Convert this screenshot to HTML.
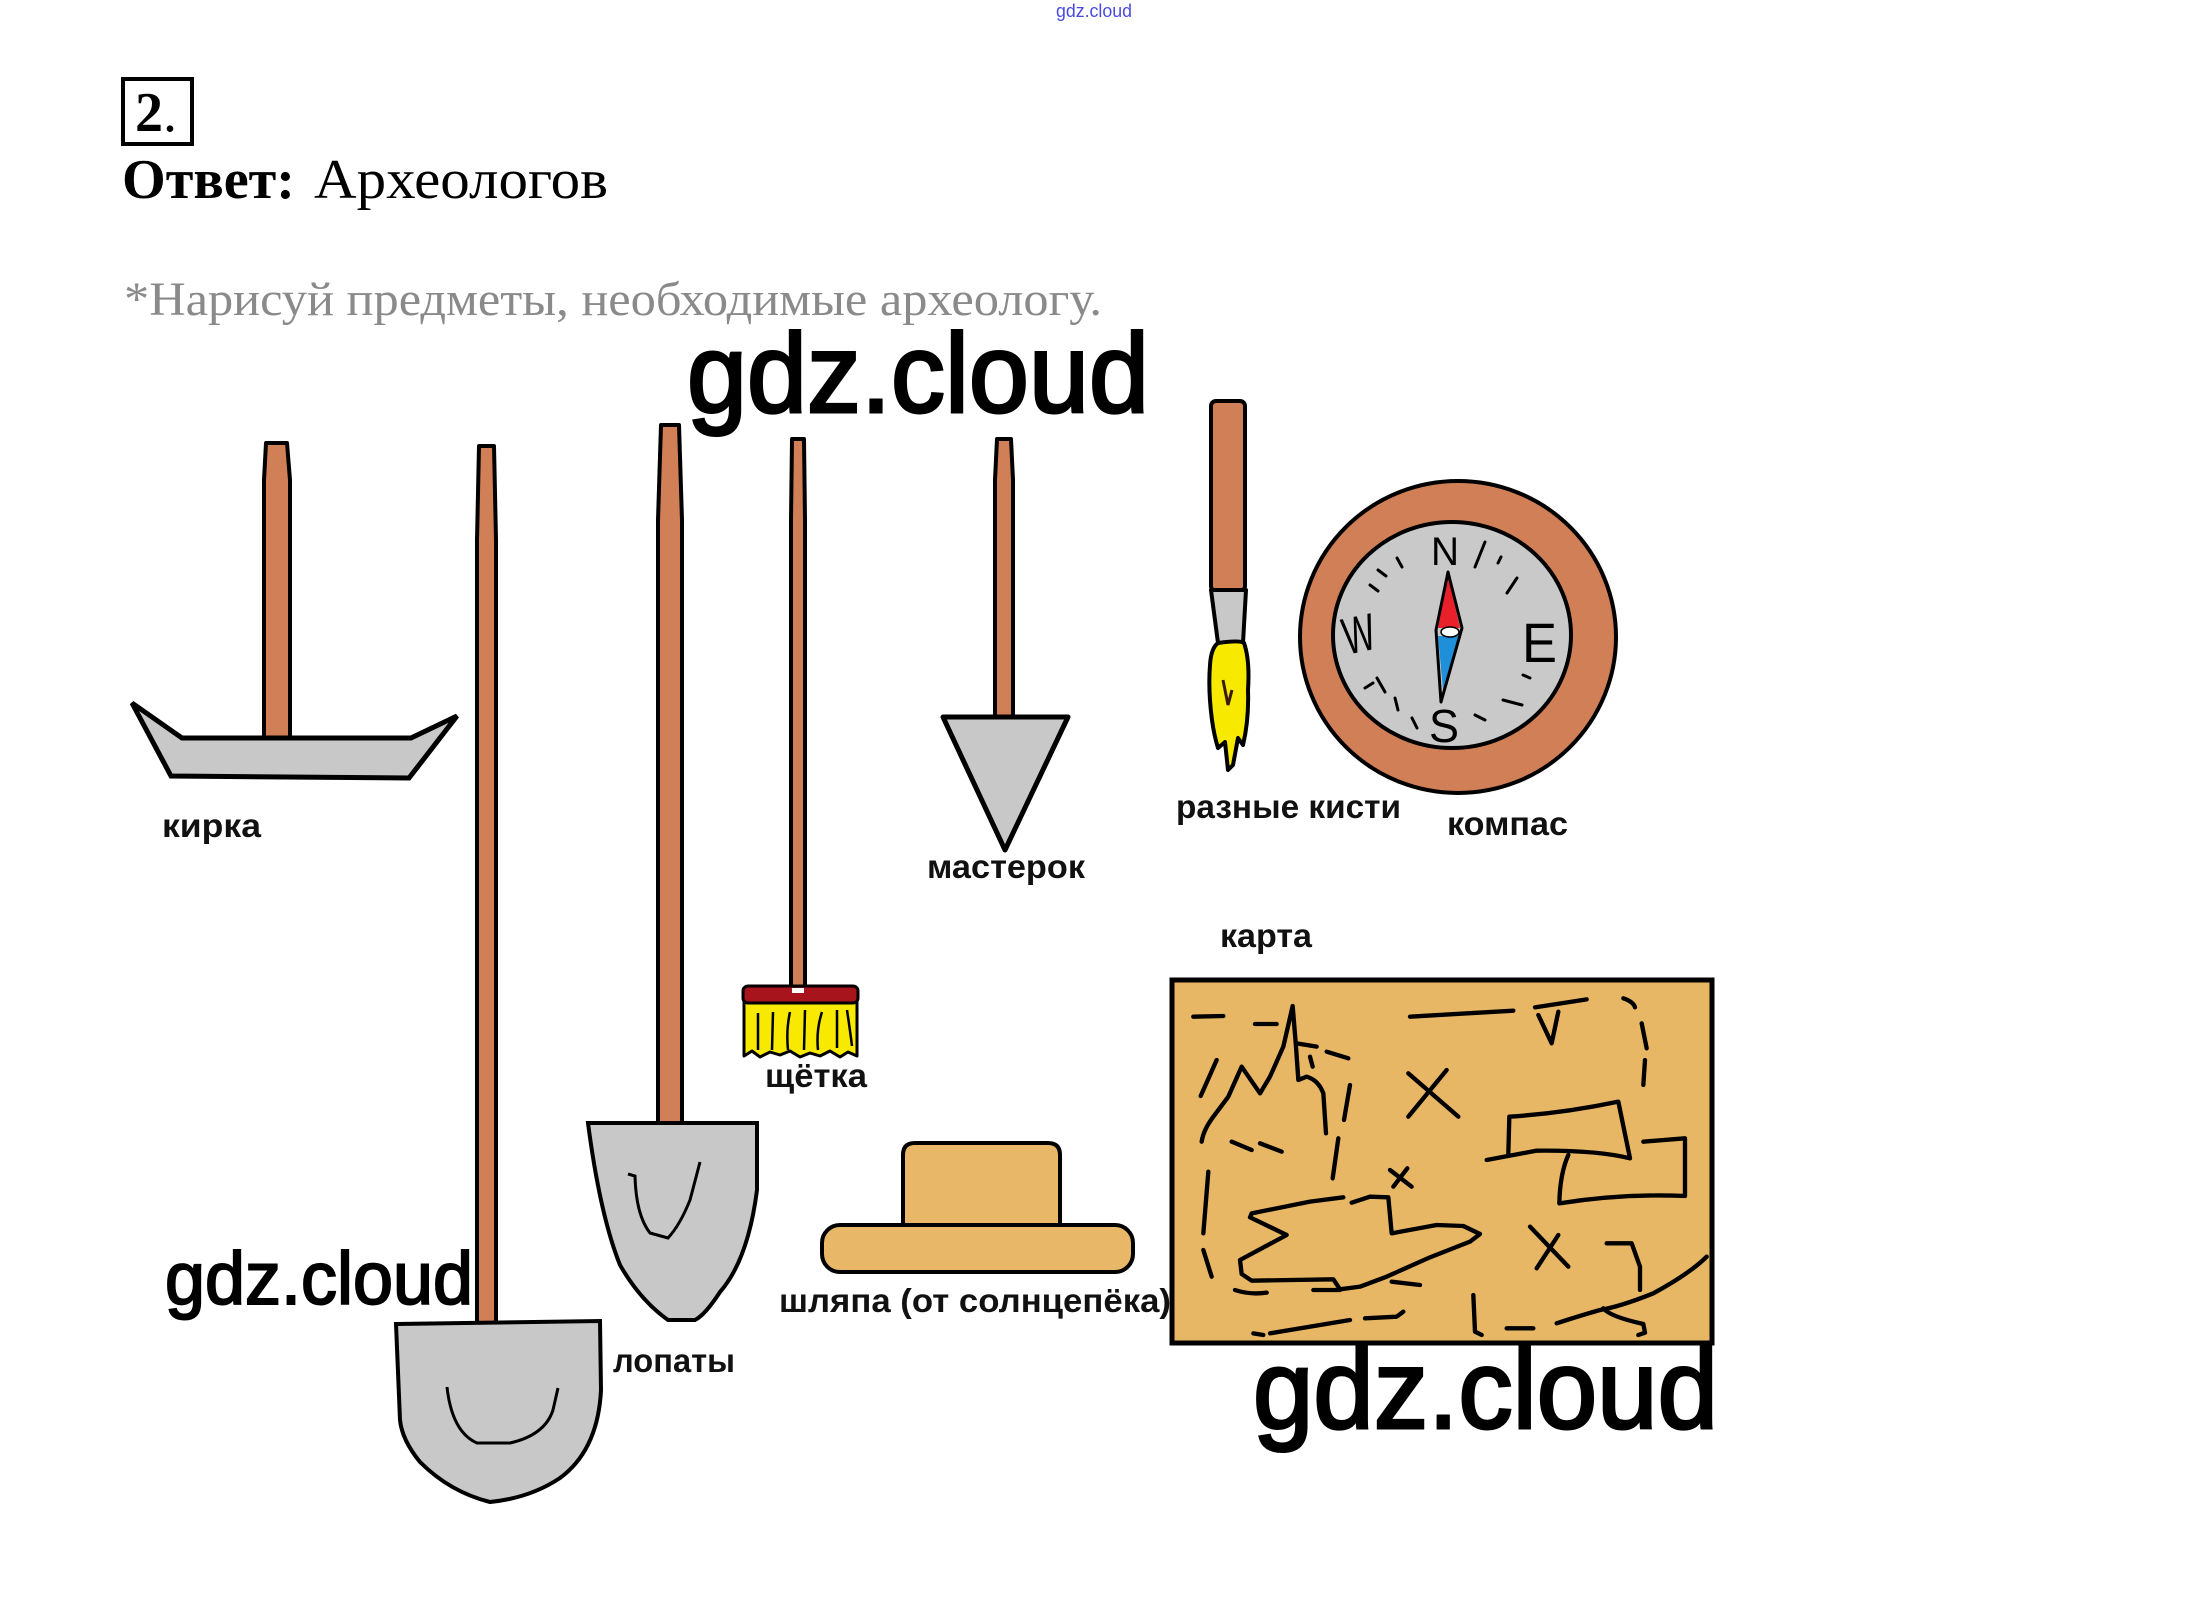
<!DOCTYPE html>
<html><head><meta charset="utf-8"><style>
html,body{margin:0;padding:0;background:#fff;}
body{width:2190px;height:1598px;overflow:hidden;position:relative;}
svg{position:absolute;left:0;top:0;}
.lab{font-family:"Liberation Sans","DejaVu Sans",sans-serif;font-weight:bold;font-size:33px;fill:#111;}
.wm{font-family:"Liberation Sans","DejaVu Sans",sans-serif;fill:#000;}
</style></head><body>
<svg width="2190" height="1598" viewBox="0 0 2190 1598" xmlns="http://www.w3.org/2000/svg">
<!-- header -->
<text class="wm" x="1056" y="17" font-size="18" fill="#4a4ae0" style="fill:#4a4ae0" textLength="76" lengthAdjust="spacingAndGlyphs">gdz.cloud</text>
<rect x="123" y="79" width="69" height="65" fill="none" stroke="#000" stroke-width="4"/>
<text x="135" y="131" font-family="Liberation Serif, serif" font-weight="bold" font-size="56" fill="#000">2<tspan font-weight="normal">.</tspan></text>
<text x="122" y="198" font-family="Liberation Serif, serif" font-weight="bold" font-size="56" fill="#000" textLength="173" lengthAdjust="spacingAndGlyphs">Ответ:</text>
<text x="314" y="198" font-family="Liberation Serif, serif" font-size="56" fill="#000" textLength="294" lengthAdjust="spacingAndGlyphs">Археологов</text>
<text x="124" y="315" font-family="Liberation Serif, serif" font-size="48" fill="#8a8a8a" textLength="978" lengthAdjust="spacingAndGlyphs">*Нарисуй предметы, необходимые археологу.</text>

<!-- handles -->
<g fill="#d07f56" stroke="#000" stroke-width="4" stroke-linejoin="round">
<polygon points="266,443 287,443 290,480 290,740 264,740 264,480"/>
<polygon points="479,446 494,446 496,540 496,1326 477,1326 477,540"/>
<polygon points="661,425 679,425 682,520 682,1124 658,1124 658,520"/>
<polygon points="792,439 804,439 805,520 805,988 791,988 791,520"/>
<polygon points="997,439 1011,439 1013,480 1013,718 995,718 995,480"/>
<rect x="1211" y="401" width="34" height="190" rx="5"/>
</g>

<!-- pick head -->
<polygon points="132,703 182,738 411,738 457,716 409,778 171,776" fill="#c8c8c8" stroke="#000" stroke-width="5" stroke-linejoin="miter"/>
<text class="lab" x="162" y="837" textLength="99" lengthAdjust="spacingAndGlyphs">кирка</text>

<!-- left shovel -->
<path d="M396,1324 L600,1321 L601,1390 Q598,1450 560,1478 Q530,1498 490,1502 Q450,1492 420,1462 Q402,1440 400,1420 Z" fill="#c8c8c8" stroke="#000" stroke-width="4"/>
<path d="M447,1387 Q452,1432 477,1443 L510,1443 Q545,1435 553,1410 L558,1388" fill="none" stroke="#000" stroke-width="3"/>

<!-- right shovel -->
<path d="M588,1123 L757,1123 L757,1190 Q748,1260 720,1292 Q705,1315 695,1320 L668,1320 Q640,1300 620,1265 Q600,1215 588,1123 Z" fill="#c8c8c8" stroke="#000" stroke-width="4"/>
<path d="M628,1174 L635,1176 Q636,1215 650,1233 L668,1238 Q680,1225 690,1200 L700,1162" fill="none" stroke="#000" stroke-width="3"/>
<text class="lab" x="613" y="1372" textLength="122" lengthAdjust="spacingAndGlyphs">лопаты</text>

<!-- brush (щётка) -->
<path d="M744,1002 L857,1002 L857,1056 L848,1052 L840,1057 L830,1051 L820,1056 L810,1053 L800,1057 L790,1051 L780,1055 L770,1052 L760,1057 L752,1051 L744,1056 Z" fill="#f7ea00" stroke="#000" stroke-width="3" stroke-linejoin="round"/>
<g stroke="#000" stroke-width="2.5" fill="none">
<path d="M758,1013 L758,1050"/><path d="M773,1012 L772,1050"/><path d="M790,1012 Q786,1030 788,1050"/><path d="M805,1010 L804,1050"/><path d="M822,1012 Q816,1030 818,1050"/><path d="M837,1010 L837,1048"/><path d="M847,1010 Q850,1030 852,1046"/>
</g>
<rect x="743" y="986" width="115" height="17" rx="5" fill="#a8141c" stroke="#000" stroke-width="3"/>
<rect x="792" y="988" width="12" height="5" fill="#fff"/>
<text class="lab" x="765" y="1087" textLength="102" lengthAdjust="spacingAndGlyphs">щётка</text>

<!-- trowel -->
<polygon points="943,717 1068,717 1005,850" fill="#c8c8c8" stroke="#000" stroke-width="5" stroke-linejoin="round"/>
<text class="lab" x="927" y="878" textLength="158" lengthAdjust="spacingAndGlyphs">мастерок</text>

<!-- paint brush -->
<polygon points="1211,590 1246,590 1243,643 1218,643" fill="#c8c8c8" stroke="#000" stroke-width="4" stroke-linejoin="round"/>
<path d="M1218,643 Q1240,640 1244,643 Q1250,660 1248,690 Q1249,720 1243,745 L1238,738 L1233,765 L1228,770 L1225,742 L1218,748 Q1214,735 1212,720 Q1208,690 1210,665 Q1211,648 1218,643 Z" fill="#f7ea00" stroke="#000" stroke-width="4" stroke-linejoin="round"/>
<path d="M1223,680 L1228,705 L1232,690" fill="none" stroke="#3a1a0a" stroke-width="3"/>
<text class="lab" x="1176" y="818" textLength="225" lengthAdjust="spacingAndGlyphs">разные кисти</text>

<!-- compass -->
<ellipse cx="1458" cy="637" rx="158" ry="156" fill="#d07f56" stroke="#000" stroke-width="4"/>
<ellipse cx="1452" cy="635" rx="119" ry="113" fill="#c9c9c9" stroke="#000" stroke-width="4"/>
<g font-family="Liberation Sans, sans-serif" fill="#000">
<text x="1431" y="565" font-size="40" textLength="28" lengthAdjust="spacingAndGlyphs">N</text>
<text x="1342" y="652" font-size="52" textLength="32" lengthAdjust="spacingAndGlyphs" transform="rotate(-12 1358 630)">W</text>
<text x="1522" y="662" font-size="56" textLength="35" lengthAdjust="spacingAndGlyphs">E</text>
<text x="1429" y="742" font-size="46" textLength="30" lengthAdjust="spacingAndGlyphs">S</text>
</g>
<g stroke="#000" stroke-width="3" stroke-linecap="round">
<line x1="1485" y1="542" x2="1475" y2="567"/>
<line x1="1501" y1="557" x2="1498" y2="563"/>
<line x1="1517" y1="578" x2="1507" y2="593"/>
<line x1="1397" y1="558" x2="1402" y2="567"/>
<line x1="1378" y1="570" x2="1386" y2="576"/>
<line x1="1370" y1="585" x2="1378" y2="591"/>
<line x1="1365" y1="688" x2="1373" y2="683"/>
<line x1="1377" y1="678" x2="1385" y2="692"/>
<line x1="1395" y1="698" x2="1398" y2="710"/>
<line x1="1412" y1="718" x2="1417" y2="728"/>
<line x1="1523" y1="675" x2="1530" y2="678"/>
<line x1="1503" y1="700" x2="1522" y2="705"/>
<line x1="1475" y1="715" x2="1485" y2="720"/>
</g>
<path d="M1448,576 L1460,628 L1438,628 Z" fill="#e8202a"/>
<path d="M1438,636 L1460,636 L1443,690 Z" fill="#1e8fd8"/>
<path d="M1448,572 L1462,628 L1441,702 L1436,630 Z" fill="none" stroke="#000" stroke-width="3" stroke-linejoin="round"/>
<ellipse cx="1450" cy="632" rx="9" ry="5" fill="#fff" stroke="#000" stroke-width="1.5"/>
<text class="lab" x="1447" y="835" textLength="121" lengthAdjust="spacingAndGlyphs">компас</text>

<!-- hat -->
<path d="M903,1226 L903,1155 Q903,1143 915,1143 L1048,1143 Q1060,1143 1060,1155 L1060,1226" fill="#e8b868" stroke="#000" stroke-width="4"/>
<rect x="822" y="1225" width="311" height="47" rx="18" fill="#e8b868" stroke="#000" stroke-width="4"/>
<text class="lab" x="779" y="1312" textLength="392" lengthAdjust="spacingAndGlyphs">шляпа (от солнцепёка)</text>

<!-- map -->
<text class="lab" x="1220" y="947" textLength="92" lengthAdjust="spacingAndGlyphs">карта</text>
<rect x="1172" y="980" width="540" height="363" fill="#e8b766" stroke="#000" stroke-width="5"/>
<g transform="translate(1170,920) scale(0.33333)" fill="none" stroke="#000" stroke-width="13" stroke-linecap="round" stroke-linejoin="round">
<path d="M70,290 L160,288"/>
<path d="M255,312 L320,312"/>
<path d="M95,665 Q100,630 130,590 L175,530 L215,440 L270,520 L300,470 L340,380 L368,258 L378,380 L385,480 L410,470 Q445,480 460,520 L468,640"/>
<path d="M380,370 L440,380"/><path d="M470,395 L535,415"/><path d="M420,410 L428,440"/>
<path d="M92,528 L140,420"/>
<path d="M185,665 L245,690"/><path d="M270,670 L335,695"/>
<path d="M540,495 L522,600"/><path d="M505,655 L488,775"/>
<path d="M115,755 L100,940"/><path d="M100,990 L125,1070"/>
<path d="M195,1110 Q240,1125 290,1118"/><path d="M430,1110 L510,1110"/><path d="M250,1240 L280,1245"/><path d="M300,1240 L540,1200"/><path d="M585,1195 L680,1190 L700,1175"/>
<path d="M520,832 L420,845 L245,880 L240,892 L350,945 L210,1020 L215,1062 L245,1082 L490,1078 L510,1108 L570,1100 L650,1070 L780,1012 L900,965 L930,942 L880,918 L800,915 L665,940 L655,832 L600,830 L545,848"/>
<path d="M665,1085 L750,1095"/>
<path d="M660,750 L725,800"/><path d="M712,745 L670,800"/>
<path d="M715,460 L865,590"/><path d="M830,450 L715,590"/>
<path d="M720,290 L1030,272"/>
<path d="M1095,262 L1250,238"/><path d="M1105,285 L1145,370 L1165,275"/>
<path d="M1360,235 Q1390,245 1395,262"/><path d="M1415,310 L1430,385"/><path d="M1425,420 L1420,495"/>
<path d="M1015,700 L1018,590 Q1180,580 1345,545 L1380,715 Q1280,690 1100,692 L950,720"/>
<path d="M1195,705 Q1170,760 1168,850 Q1360,820 1545,828 L1545,655 L1420,665"/>
<path d="M1080,920 L1195,1040"/><path d="M1165,945 L1100,1045"/>
<path d="M1310,970 L1385,970 L1410,1040 L1410,1110"/>
<path d="M1610,1010 Q1560,1060 1450,1120 Q1350,1160 1290,1170 Q1220,1190 1160,1210"/>
<path d="M1300,1165 Q1320,1190 1420,1212 L1425,1238 L1405,1245"/>
<path d="M910,1125 L915,1235 L935,1245"/><path d="M1010,1225 L1090,1225"/>
</g>

<!-- watermarks -->
<text class="wm" x="687" y="412" font-size="112" stroke="#000" stroke-width="3" textLength="462" lengthAdjust="spacingAndGlyphs">gdz.cloud</text>
<text class="wm" x="165" y="1304" font-size="74" stroke="#000" stroke-width="2" textLength="308" lengthAdjust="spacingAndGlyphs">gdz.cloud</text>
<text class="wm" x="1253" y="1428" font-size="112" stroke="#000" stroke-width="3" textLength="465" lengthAdjust="spacingAndGlyphs">gdz.cloud</text>
</svg>
</body></html>
